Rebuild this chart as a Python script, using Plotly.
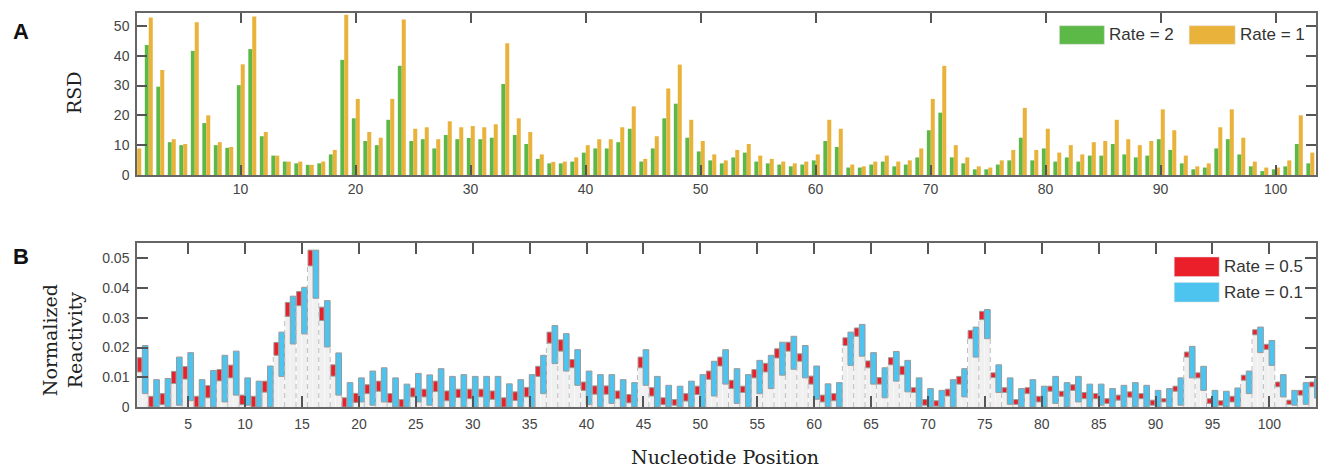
import plotly.graph_objects as go

# ---------------- data ----------------
positions_a = list(range(1, 104))
rsd_rate2 = [7.0, 43.6, 29.6, 11.0, 10.0, 41.6, 17.4, 10.0, 9.1, 30.1,
             42.2, 13.0, 6.5, 4.5, 3.9, 3.4, 3.9, 6.9, 38.6, 19.0,
             11.4, 10.0, 18.5, 36.6, 11.4, 12.0, 8.9, 13.4, 12.0, 12.4,
             12.0, 12.5, 30.5, 13.4, 10.4, 5.4, 3.9, 3.9, 4.5, 7.5,
             8.9, 8.9, 11.0, 15.5, 4.5, 8.9, 19.0, 23.9, 12.5, 7.9,
             4.9, 3.9, 5.9, 7.5, 4.5, 3.9, 3.5, 2.9, 3.5, 4.9,
             11.4, 9.4, 2.5, 2.5, 3.5, 4.5, 2.9, 3.5, 5.9, 15.0,
             20.9, 5.9, 3.9, 1.9, 1.9, 3.5, 4.9, 12.5, 4.9, 8.9,
             4.5, 5.9, 4.5, 6.5, 6.5, 10.4, 6.9, 5.9, 6.5, 12.0,
             8.4, 3.9, 1.9, 2.5, 8.9, 12.0, 6.9, 2.9, 1.3, 1.9,
             2.9, 10.4, 3.9]
rsd_rate1 = [8.9, 52.8, 35.2, 12.0, 10.4, 51.2, 20.0, 11.0, 9.4, 37.1,
             53.1, 14.4, 6.5, 4.5, 4.5, 3.4, 4.5, 8.4, 53.7, 25.5,
             14.4, 12.5, 25.5, 52.1, 15.5, 16.0, 12.0, 18.0, 16.0, 16.4,
             16.0, 17.0, 44.2, 19.0, 14.4, 6.9, 4.4, 4.5, 5.9, 10.0,
             12.0, 12.0, 16.0, 23.0, 5.4, 13.0, 29.0, 37.0, 18.5, 11.4,
             6.9, 4.9, 8.4, 10.4, 6.5, 5.4, 4.5, 3.9, 4.5, 6.9,
             18.5, 15.5, 3.5, 2.9, 4.5, 6.5, 4.5, 4.9, 8.9, 25.5,
             36.6, 10.0, 5.9, 2.9, 2.5, 4.9, 8.4, 22.5, 8.4, 15.5,
             7.5, 10.0, 6.9, 11.0, 11.4, 18.5, 12.0, 10.0, 11.4, 22.0,
             15.0, 6.5, 2.9, 3.9, 16.0, 22.0, 12.5, 4.5, 2.5, 2.5,
             4.9, 20.0, 7.5]

positions_b = list(range(1, 105))
r05_lo = [0.0118, 0.0, 0.0008, 0.0079, 0.0094, 0.0, 0.0031, 0.0088, 0.0098, 0.0008,
          0.0, 0.0050, 0.0174, 0.0305, 0.0341, 0.0475, 0.0291, 0.0104, 0.0, 0.0015,
          0.0045, 0.0053, 0.0015, 0.0, 0.0034, 0.0034, 0.0052, 0.0021, 0.0032, 0.0028,
          0.0034, 0.0026, 0.0, 0.0022, 0.0034, 0.0103, 0.0215, 0.0188, 0.0132, 0.0056,
          0.0043, 0.0043, 0.0028, 0.0014, 0.0132, 0.0037, 0.0008, 0.0006, 0.0020, 0.0042,
          0.0093, 0.0138, 0.0062, 0.0049, 0.0098, 0.0118, 0.0165, 0.0188, 0.0154, 0.0077,
          0.0017, 0.0021, 0.0207, 0.0238, 0.0132, 0.0077, 0.0142, 0.0109, 0.0049, 0.0006,
          0.0003, 0.0037, 0.0077, 0.0230, 0.0294, 0.0099, 0.0049, 0.0009, 0.0045, 0.0017,
          0.0053, 0.0036, 0.0056, 0.0028, 0.0028, 0.0012, 0.0023, 0.0033, 0.0028, 0.0006,
          0.0017, 0.0053, 0.0168, 0.0098, 0.0012, 0.0006, 0.0017, 0.0090, 0.0243, 0.0194,
          0.0068, 0.0009, 0.0040, 0.0068]
r05_hi = [0.0166, 0.0036, 0.0045, 0.0120, 0.0136, 0.0036, 0.0072, 0.0126, 0.0141, 0.0040,
          0.0036, 0.0087, 0.0217, 0.0352, 0.0389, 0.0528, 0.0336, 0.0142, 0.0031, 0.0046,
          0.0075, 0.0087, 0.0045, 0.0025, 0.0064, 0.0060, 0.0087, 0.0054, 0.0060, 0.0060,
          0.0060, 0.0054, 0.0031, 0.0051, 0.0066, 0.0137, 0.0252, 0.0226, 0.0160, 0.0084,
          0.0071, 0.0071, 0.0054, 0.0042, 0.0168, 0.0065, 0.0031, 0.0025, 0.0045, 0.0070,
          0.0121, 0.0168, 0.0090, 0.0070, 0.0126, 0.0147, 0.0196, 0.0218, 0.0179, 0.0104,
          0.0040, 0.0045, 0.0233, 0.0266, 0.0155, 0.0099, 0.0166, 0.0137, 0.0065, 0.0025,
          0.0021, 0.0060, 0.0103, 0.0258, 0.0322, 0.0115, 0.0065, 0.0025, 0.0065, 0.0036,
          0.0070, 0.0053, 0.0075, 0.0049, 0.0045, 0.0028, 0.0040, 0.0051, 0.0045, 0.0023,
          0.0028, 0.0070, 0.0185, 0.0115, 0.0028, 0.0021, 0.0036, 0.0107, 0.0260, 0.0211,
          0.0084, 0.0023, 0.0056, 0.0084]
r01_lo = [0.0045, 0.0, 0.0, 0.0006, 0.0021, 0.0, 0.0, 0.0017, 0.0040, 0.0006,
          0.0, 0.0, 0.0103, 0.0212, 0.0246, 0.0366, 0.0202, 0.0040, 0.0, 0.0017,
          0.0006, 0.0017, 0.0, 0.0, 0.0017, 0.0006, 0.0, 0.0, 0.0, 0.0,
          0.0, 0.0, 0.0, 0.0, 0.0, 0.0045, 0.0146, 0.0121, 0.0073, 0.0008,
          0.0, 0.0012, 0.0, 0.0, 0.0073, 0.0, 0.0, 0.0, 0.0, 0.0,
          0.0037, 0.0077, 0.0012, 0.0, 0.0045, 0.0062, 0.0107, 0.0127, 0.0098, 0.0026,
          0.0, 0.0, 0.0140, 0.0171, 0.0077, 0.0031, 0.0087, 0.0051, 0.0, 0.0,
          0.0, 0.0, 0.0034, 0.0168, 0.0230, 0.0049, 0.0009, 0.0, 0.0, 0.0,
          0.0012, 0.0, 0.0017, 0.0, 0.0006, 0.0, 0.0, 0.0, 0.0, 0.0,
          0.0, 0.0006, 0.0098, 0.0056, 0.0, 0.0, 0.0, 0.0045, 0.0183, 0.0140,
          0.0034, 0.0006, 0.0009, 0.0030]
r01_hi = [0.0207, 0.0092, 0.0096, 0.0168, 0.0183, 0.0092, 0.0123, 0.0174, 0.0188, 0.0098,
          0.0087, 0.0138, 0.0252, 0.0373, 0.0403, 0.0528, 0.0358, 0.0182, 0.0082, 0.0098,
          0.0121, 0.0132, 0.0098, 0.0077, 0.0113, 0.0108, 0.0129, 0.0103, 0.0109, 0.0103,
          0.0103, 0.0103, 0.0078, 0.0092, 0.0109, 0.0174, 0.0274, 0.0247, 0.0193, 0.0121,
          0.0109, 0.0109, 0.0092, 0.0082, 0.0193, 0.0103, 0.0073, 0.0070, 0.0087, 0.0109,
          0.0154, 0.0193, 0.0129, 0.0109, 0.0157, 0.0174, 0.0218, 0.0238, 0.0207, 0.0138,
          0.0078, 0.0082, 0.0252, 0.0278, 0.0183, 0.0132, 0.0187, 0.0157, 0.0098, 0.0062,
          0.0056, 0.0092, 0.0129, 0.0269, 0.0328, 0.0142, 0.0098, 0.0062, 0.0092, 0.0070,
          0.0103, 0.0082, 0.0103, 0.0077, 0.0077, 0.0062, 0.0073, 0.0082, 0.0073, 0.0056,
          0.0062, 0.0098, 0.0204, 0.0137, 0.0056, 0.0053, 0.0064, 0.0121, 0.0269, 0.0224,
          0.0109, 0.0056, 0.0082, 0.0095]

xticks_a = [10, 20, 30, 40, 50, 60, 70, 80, 90, 100]
yticks_a = [0, 10, 20, 30, 40, 50]
xticks_b = [5, 10, 15, 20, 25, 30, 35, 40, 45, 50, 55, 60, 65, 70, 75, 80, 85, 90, 95, 100]
yticks_b = [0, 0.01, 0.02, 0.03, 0.04, 0.05]
ytick_labels_b = ["0", "0.01", "0.02", "0.03", "0.04", "0.05"]

series_a = ["Rate = 2", "Rate = 1"]
series_b = ["Rate = 0.5", "Rate = 0.1"]

# ---------------- styles ----------------
GREEN = "#5db947"
ORANGE = "#e9b23a"
RED = "#ea1f29"
BLUE = "#4dc4f0"
BASE_FILL = "#f0f0f0"
EDGE = "#9a9a9a"

W = 1318
H = 470
ML, MR, MT, MB = 137, 0, 13, 63
PW = W - ML - MR
PH = H - MT - MB


def py2paper(py):
    return (H - MB - py) / PH


def px2paper(px):
    return (px - ML) / PW


A_DOM = [py2paper(175), 1.0]
B_DOM = [0.0, py2paper(243)]

fig = go.Figure()

# Panel A: grouped bars
fig.add_trace(go.Bar(x=positions_a, y=rsd_rate2, name=series_a[0], width=0.34, offset=-0.32,
                     marker=dict(color=GREEN, line=dict(width=0)), xaxis="x", yaxis="y"))
fig.add_trace(go.Bar(x=positions_a, y=rsd_rate1, name=series_a[1], width=0.35, offset=0.02,
                     marker=dict(color=ORANGE, line=dict(width=0)), xaxis="x", yaxis="y"))

# Panel B: floating bars on a light grey stacked base
RED_OFF, RED_W = -0.47, 0.40
BLUE_OFF, BLUE_W = -0.03, 0.50

fig.add_trace(go.Bar(x=positions_b, y=r05_lo, width=RED_W, offset=RED_OFF,
                     marker=dict(color=BASE_FILL, line=dict(width=0)), xaxis="x2", yaxis="y2",
                     showlegend=False, hoverinfo="skip"))
fig.add_trace(go.Bar(x=positions_b, y=r01_lo, width=BLUE_W, offset=BLUE_OFF,
                     marker=dict(color=BASE_FILL, line=dict(width=0)), xaxis="x2", yaxis="y2",
                     showlegend=False, hoverinfo="skip"))

# dashed separators of the grey bases (between one position's blue bar and the next red bar)
ex, ey = [], []
for i, p in enumerate(positions_b):
    nxt = r05_lo[i + 1] if i + 1 < len(positions_b) else 0
    h = max(r01_lo[i], nxt)
    if h > 0:
        xe = p + BLUE_OFF + BLUE_W + 0.005
        ex += [xe, xe, None]
        ey += [0, h, None]
fig.add_trace(go.Scatter(x=ex, y=ey, mode="lines", xaxis="x2", yaxis="y2",
                         line=dict(color="#bdbdbd", width=1, dash="5px,4px"),
                         showlegend=False, hoverinfo="skip"))

fig.add_trace(go.Bar(x=positions_b, y=[h - l for h, l in zip(r05_hi, r05_lo)], base=r05_lo,
                     name=series_b[0], width=RED_W, offset=RED_OFF,
                     marker=dict(color=RED, line=dict(color=EDGE, width=1)), xaxis="x2", yaxis="y2"))
fig.add_trace(go.Bar(x=positions_b, y=[h - l for h, l in zip(r01_hi, r01_lo)], base=r01_lo,
                     name=series_b[1], width=BLUE_W, offset=BLUE_OFF,
                     marker=dict(color=BLUE, line=dict(color=EDGE, width=1)), xaxis="x2", yaxis="y2"))

tickfont = dict(family="Liberation Sans, Arial, sans-serif", size=14, color="#444444")
axis_common = dict(showline=True, linecolor="#666666", linewidth=1.5, mirror="ticks",
                   ticks="inside", tickcolor="#555555", tickwidth=1.5, showgrid=False,
                   zeroline=False, tickfont=tickfont)

fig.update_layout(
    width=W, height=H,
    margin=dict(l=ML, r=MR, t=MT, b=MB, pad=0),
    plot_bgcolor="white", paper_bgcolor="white",
    barmode="overlay", showlegend=False,
    xaxis=dict(domain=[0, 1], anchor="y", range=[1, 1 + PW / 11.52], tickvals=xticks_a,
               ticklen=10, ticklabelstandoff=0, **axis_common),
    yaxis=dict(domain=A_DOM, anchor="x", range=[0, 54.3], tickvals=yticks_a, ticklen=10,
               ticklabelstandoff=3, **axis_common),
    xaxis2=dict(domain=[0, 1], anchor="y2", range=[0.5, 0.5 + PW / 11.4], tickvals=xticks_b,
                ticklen=11, ticklabelstandoff=3, **axis_common),
    yaxis2=dict(domain=B_DOM, anchor="x2", range=[0, 0.0552], tickvals=yticks_b,
                ticktext=ytick_labels_b, ticklen=11, ticklabelstandoff=3, **axis_common),
)

# legends drawn as swatches + text
legend_items = [
    (GREEN, series_a[0], 1061, 1106, 25.7, 44.3),
    (ORANGE, series_a[1], 1191, 1237, 25.7, 44.3),
    (RED, series_b[0], 1176, 1221, 257, 276.5),
    (BLUE, series_b[1], 1176, 1221, 282.5, 302),
]
legend_font = dict(family="Liberation Sans, Arial, sans-serif", size=17, color="#333333")
for color, label, x0, x1, y0, y1 in legend_items:
    fig.add_shape(type="rect", xref="paper", yref="paper",
                  x0=px2paper(x0), x1=px2paper(x1), y0=py2paper(y1), y1=py2paper(y0),
                  fillcolor=color, line=dict(color="#dddddd", width=0.5), layer="above")
    fig.add_annotation(xref="paper", yref="paper", x=px2paper(x1 + 3), y=py2paper((y0 + y1) / 2),
                       text=label, showarrow=False, xanchor="left", yanchor="middle",
                       font=legend_font)

serif = dict(family="DejaVu Serif, serif", size=19, color="#222222")
fig.add_annotation(xref="paper", yref="paper", x=px2paper(74), y=py2paper(93), text="RSD",
                   textangle=-90, showarrow=False, xanchor="center", yanchor="middle", font=serif)
fig.add_annotation(xref="paper", yref="paper", x=px2paper(62), y=py2paper(340),
                   text="Normalized<br>Reactivity", textangle=-90, showarrow=False,
                   xanchor="center", yanchor="middle", font=serif)
fig.add_annotation(xref="paper", yref="paper", x=px2paper(726), y=py2paper(457),
                   text="Nucleotide Position", showarrow=False, xanchor="center",
                   yanchor="middle", font=serif, borderpad=0)

panel_font = dict(family="Liberation Sans, Arial, sans-serif", size=22, color="#111111")
fig.add_annotation(xref="paper", yref="paper", x=px2paper(21), y=py2paper(31), text="<b>A</b>",
                   showarrow=False, xanchor="center", yanchor="middle", font=panel_font)
fig.add_annotation(xref="paper", yref="paper", x=px2paper(21), y=py2paper(256), text="<b>B</b>",
                   showarrow=False, xanchor="center", yanchor="middle", font=panel_font)

fig.write_html("out.html", config={"displayModeBar": False},
               post_script="document.body.style.margin='0';document.body.style.overflow='hidden';")
